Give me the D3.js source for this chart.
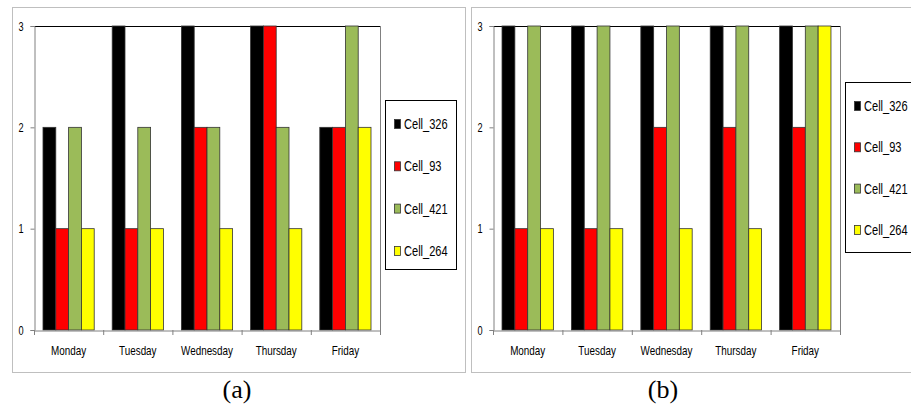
<!DOCTYPE html>
<html><head><meta charset="utf-8">
<script src="https://cdn.jsdelivr.net/npm/d3@7"></script>
<style>
html,body{margin:0;padding:0;background:#fff;}
svg{display:block;}
</style></head>
<body>
<svg id="c" width="911" height="406"></svg>
<script>
const days = ["Monday","Tuesday","Wednesday","Thursday","Friday"];
const seriesNames = ["Cell_326","Cell_93","Cell_421","Cell_264"];
const seriesColors = ["#000000","#ff0000","#9bbb59","#ffff00"];
const yTicks = [0,1,2,3];
// panel (a)
const a_cell326 = [2,3,3,3,2];
const a_cell93  = [1,1,2,3,2];
const a_cell421 = [2,2,2,2,3];
const a_cell264 = [1,1,1,1,2];
// panel (b)
const b_cell326 = [3,3,3,3,3];
const b_cell93  = [1,1,2,2,2];
const b_cell421 = [3,3,3,3,3];
const b_cell264 = [1,1,1,1,3];
const captions = ["(a)","(b)"];

const svg = d3.select("#c");
const FONT = "'Liberation Sans',Arial,sans-serif";
const SX = 0.79;   // horizontal squeeze of the original (stretched) chart text

function panel(cfg){
  const g = svg.append("g");
  g.append("rect").attr("x",cfg.fx+0.5).attr("y",cfg.fy+0.5)
    .attr("width",cfg.fw).attr("height",cfg.fh)
    .attr("fill","#fff").attr("stroke","#bfbfbf").attr("stroke-width",1);
  const x = d3.scaleBand().domain(days).range([cfg.px0,cfg.px1]);
  const y = d3.scaleLinear().domain([0,3]).range([cfg.py1,cfg.py0]);
  const groupW = x.bandwidth()*0.74;
  const sub = d3.scaleBand().domain(seriesNames).range([(x.bandwidth()-groupW)/2,(x.bandwidth()+groupW)/2]);
  // plot area border top/right
  g.append("line").attr("x1",cfg.px0).attr("x2",cfg.px1).attr("y1",cfg.py0+0.5).attr("y2",cfg.py0+0.5)
    .attr("stroke","#000").attr("stroke-width",1.2);
  g.append("line").attr("x1",cfg.px1+0.5).attr("x2",cfg.px1+0.5).attr("y1",cfg.py0).attr("y2",cfg.py1)
    .attr("stroke","#808080").attr("stroke-width",1);
  // bars
  const data = [];
  days.forEach((d,i)=>cfg.series.forEach((s,j)=>data.push({day:d,name:seriesNames[j],v:s[i],c:seriesColors[j]})));
  g.selectAll("rect.bar").data(data).enter().append("rect").attr("class","bar")
    .attr("x",d=>x(d.day)+sub(d.name))
    .attr("width",sub.bandwidth())
    .attr("y",d=>y(d.v))
    .attr("height",d=>y(0)-y(d.v))
    .attr("fill",d=>d.c)
    .attr("stroke","#333").attr("stroke-width",0.8);
  // y axis
  const ya = g.append("g").attr("transform",`translate(${cfg.px0+0.5},0)`)
    .call(d3.axisLeft(y).tickValues(yTicks).tickFormat(d3.format("d")).tickSize(4).tickPadding(5));
  ya.select(".domain").attr("stroke","#808080");
  ya.selectAll(".tick line").attr("stroke","#808080");
  ya.selectAll("text").attr("font-family",FONT).attr("font-size","13.5px").attr("fill","#000")
    .attr("x",-11/0.68).attr("transform","scale(0.68,1)");
  // x axis
  const xa = g.append("g").attr("transform",`translate(0,${cfg.py1+0.5})`)
    .call(d3.axisBottom(x).tickSize(0).tickPadding(0));
  xa.select(".domain").attr("stroke","#808080");
  xa.selectAll("text").attr("font-family",FONT).attr("font-size","12.5px").attr("fill","#000")
    .attr("y",25).attr("dy",0).attr("transform",`scale(${SX},1)`);
  // category boundary ticks
  const bounds = days.map(d=>x(d)).concat([x.range()[1]]);
  g.selectAll("line.bt").data(bounds).enter().append("line").attr("class","bt")
    .attr("x1",d=>d+0.5).attr("x2",d=>d+0.5).attr("y1",cfg.py1).attr("y2",cfg.py1+5)
    .attr("stroke","#808080");
  // legend
  const lg = g.append("g");
  lg.append("rect").attr("x",cfg.lx+0.5).attr("y",cfg.ly+0.5).attr("width",cfg.lw).attr("height",cfg.lh)
    .attr("fill","#fff").attr("stroke","#000").attr("stroke-width",1);
  seriesNames.forEach((n,i)=>{
    const yy = cfg.ly + cfg.l0 + i*cfg.ls;
    lg.append("rect").attr("x",cfg.lx+9.5).attr("y",yy-4.5).attr("width",6).attr("height",9)
      .attr("fill",seriesColors[i]).attr("stroke","#333").attr("stroke-width",0.8);
    lg.append("text").attr("transform",`translate(${cfg.lx+19},${yy+5}) scale(${SX},1)`)
      .attr("font-family",FONT).attr("font-size","14px").attr("fill","#000").text(n);
  });
  // caption
  g.append("text").attr("x",cfg.cx).attr("y",398).attr("text-anchor","middle")
    .attr("font-family","'Liberation Serif','Times New Roman',serif").attr("font-size","26px").attr("fill","#000")
    .text(cfg.caption);
}

panel({fx:12,fy:7,fw:453,fh:365,px0:34,px1:380,py0:26,py1:330,
  series:[a_cell326,a_cell93,a_cell421,a_cell264],
  lx:385,ly:100,lw:71,lh:169,l0:24,ls:42.3,cx:237,caption:captions[0]});
panel({fx:471,fy:7,fw:460,fh:365,px0:493,px1:840,py0:26,py1:330,
  series:[b_cell326,b_cell93,b_cell421,b_cell264],
  lx:845,ly:82,lw:80,lh:170,l0:24,ls:41.3,cx:663,caption:captions[1]});
</script>
</body></html>
